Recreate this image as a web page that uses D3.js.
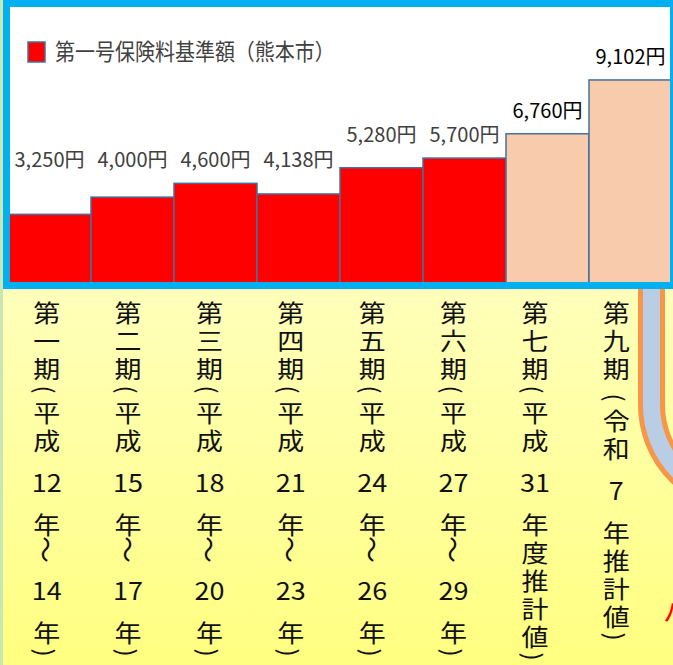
<!DOCTYPE html>
<html lang="ja">
<head>
<meta charset="utf-8">
<script src="https://cdn.jsdelivr.net/npm/d3@7"></script>
<style>
  body { margin: 0; background: #fff; }
  svg { display: block; font-family: "Noto Sans CJK JP", "Noto Sans", sans-serif; }
</style>
</head>
<body>
<svg id="chart" width="673" height="665"></svg>
<script>
var periods = [
  '第一期(平成12年～14年)',
  '第二期(平成15年～17年)',
  '第三期(平成18年～20年)',
  '第四期(平成21年～23年)',
  '第五期(平成24年～26年)',
  '第六期(平成27年～29年)',
  '第七期(平成31年度推計値)',
  '第九期 (令和7年推計値)'
];
var premiums = [3250, 4000, 4600, 4138, 5280, 5700, 6760, 9102];
var estimated = [false, false, false, false, false, false, true, true];
// value labels that sit on the same row
var labelRows = [0, 0, 0, 0, 1, 1, 2, 3];
var legendText = '第一号保険料基準額（熊本市）';

var svg = d3.select('#chart');
var defs = svg.append('defs');

var grad = defs.append('linearGradient')
  .attr('id', 'bg')
  .attr('x1', 0).attr('y1', 0)
  .attr('x2', 0).attr('y2', 1);
grad.append('stop').attr('offset', '0%').attr('stop-color', '#ffffe8');
grad.append('stop').attr('offset', '100%').attr('stop-color', '#ffff80');

defs.append('clipPath').attr('id', 'plot')
  .append('rect')
  .attr('x', 10).attr('y', 7)
  .attr('width', 660).attr('height', 276);

svg.append('rect').attr('width', 673).attr('height', 665).attr('fill', 'url(#bg)');
svg.append('rect').attr('width', 3).attr('height', 665).attr('fill', '#c9e7b5');

// band shape peeking in at the right
var band = 'M651.5,289V405A95,95 0 0 0 746.5,500';
svg.append('path').attr('d', band).attr('fill', 'none')
  .attr('stroke', '#f79646').attr('stroke-width', 27);
svg.append('path').attr('d', band).attr('fill', 'none')
  .attr('stroke', '#b9cde5').attr('stroke-width', 17);

svg.append('text')
  .attr('x', 663).attr('y', 622)
  .attr('font-size', 27)
  .attr('fill', '#ff0000')
  .text('ハ');

// chart box
svg.append('rect')
  .attr('x', 6.5).attr('y', 3.5)
  .attr('width', 667).attr('height', 282)
  .attr('fill', '#fff');

var x = d3.scaleBand().domain(d3.range(premiums.length)).range([8, 672]).padding(0);
var y = d3.scaleLinear().domain([260, 9100]).range([283, 80]);

svg.append('g')
  .attr('clip-path', 'url(#plot)')
  .selectAll('rect')
  .data(premiums)
  .join('rect')
  .attr('x', function (d, i) { return x(i); })
  .attr('y', function (d) { return y(d); })
  .attr('width', x.bandwidth())
  .attr('height', function (d) { return y(0) - y(d) + 10; })
  .attr('fill', function (d, i) { return estimated[i] ? '#f8cbad' : '#ff0000'; })
  .attr('stroke', '#41719c')
  .attr('stroke-width', 1.5);

svg.append('rect')
  .attr('x', 6.5).attr('y', 3.5)
  .attr('width', 667).attr('height', 282)
  .attr('fill', 'none')
  .attr('stroke', '#00b0f0')
  .attr('stroke-width', 7);

var fmt = d3.format(',');
var rowTop = d3.rollup(premiums.map(function (d, i) { return [labelRows[i], d]; }),
  function (v) { return d3.max(v, function (p) { return p[1]; }); },
  function (p) { return p[0]; });

svg.append('g')
  .selectAll('text')
  .data(premiums)
  .join('text')
  .attr('x', function (d, i) { return x(i) + x.bandwidth() / 2; })
  .attr('y', function (d, i) { return y(rowTop.get(labelRows[i])) - 16; })
  .attr('text-anchor', 'middle')
  .attr('font-size', 20)
  .attr('fill', function (d, i) { return estimated[i] ? '#000' : '#404040'; })
  .text(function (d) { return fmt(d) + '円'; });

// legend
svg.append('rect')
  .attr('x', 28).attr('y', 42)
  .attr('width', 17).attr('height', 20)
  .attr('fill', '#ff0000')
  .attr('stroke', '#41719c')
  .attr('stroke-width', 1.5);
svg.append('text')
  .attr('transform', 'translate(55,60) scale(1,1.12)')
  .attr('font-size', 20)
  .attr('fill', '#404040')
  .text(legendText);

// vertical period labels
var lx = d3.scaleBand().domain(d3.range(periods.length)).range([6, 657]);

var half = function (t) {
  if (/^\d+$/.test(t)) return 28;
  if (t === ' ') return 4;
  if (t === '(') return 8;
  if (t === ')') return 7;
  if (t === '～') return 12;
  return 14;
};

periods.forEach(function (label, i) {
  var tokens = label.match(/\d+|./g);
  var pos = 297.5;
  var col = svg.append('g');
  tokens.forEach(function (t) {
    var h = half(t);
    var cy = pos + h;
    pos += 2 * h;
    if (t === ' ') return;
    var turn = '()～'.indexOf(t) >= 0;
    var paren = '()'.indexOf(t) >= 0;
    col.append('text')
      .attr('transform', 'translate(' + (lx(i) + lx.bandwidth() / 2) + ',' + cy + ')' +
        (turn ? ' rotate(90)' : ' scale(1,0.9)'))
      .attr('text-anchor', 'middle')
      .attr('dominant-baseline', 'central')
      .attr('font-size', paren ? 24 : 27)
      .attr('fill', '#111')
      .text(t);
  });
});
</script>
</body>
</html>
